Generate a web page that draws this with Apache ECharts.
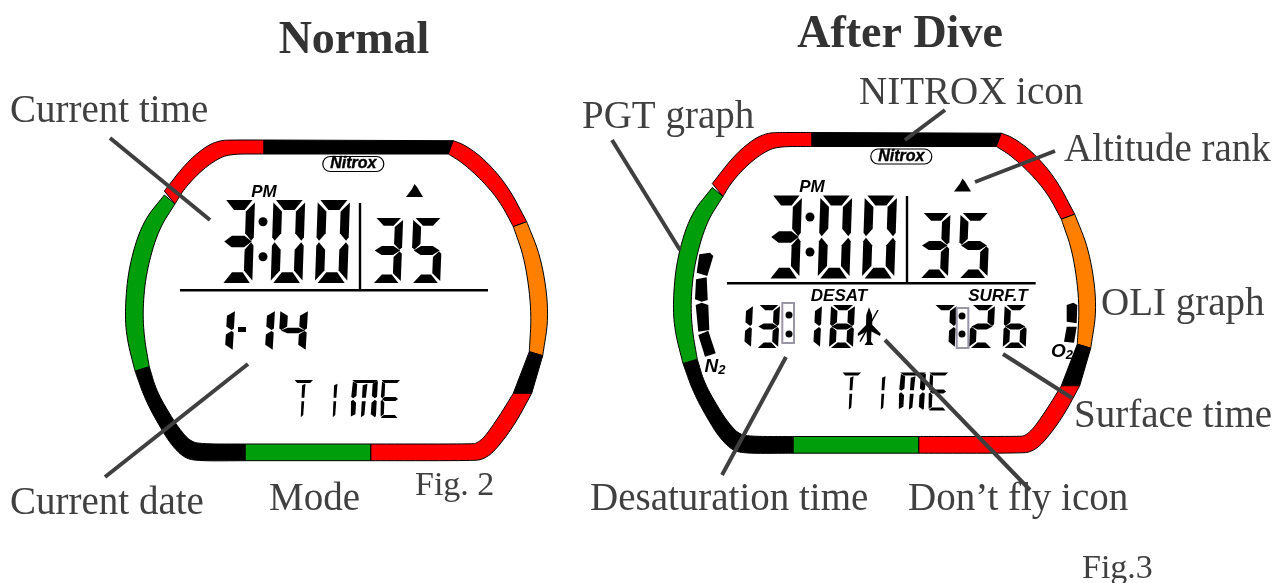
<!DOCTYPE html>
<html><head><meta charset="utf-8">
<style>html,body{margin:0;padding:0;background:#fff}#c{width:1273px;height:583px}</style>
<script src="https://cdn.jsdelivr.net/npm/echarts@6/dist/echarts.min.js"></script></head>
<body><div id="c"></div>
<script>
// ---------- bezel arcs (axis units), shared by both panels ----------
const redTopLeftOuter=[[164.3,191],[186.7,162.3],[206.7,145.7],[220,140.5],[230,140],[264,140]];
const redTopLeftInner=[[175,204],[183.3,190],[200,171.7],[216.7,159.3],[230,154],[264,154]];
const blackTopOuter=[[264,140],[453.3,140.7]];
const blackTopInner=[[264,154],[448.3,154]];
const redTopRightOuter=[[453.3,140.7],[465,145],[484.3,159],[507.7,185.7],[526.7,221.7]];
const redTopRightInner=[[448.3,154],[463.3,163.3],[483.3,181.7],[500,201.7],[513.3,226.7]];
const orangeOuter=[[526.7,221.7],[541.7,259],[549.3,313.3],[542.7,355.7]];
const orangeInner=[[513.3,226.7],[525,260],[531.7,310],[529.3,351.7]];
const blackRightOuter=[[542.7,355.7],[531.7,393.3]];
const blackRightInner=[[529.3,351.7],[513.3,393.3]];
const redBottomOuter=[[531.7,393.3],[515,424.3],[495,451],[483.3,459.3],[473.3,460.7],[370.7,460.7]];
const redBottomInner=[[513.3,393.3],[500,415],[485,436.7],[476.7,443.3],[471.7,444],[370.7,444]];
const greenBottomOuter=[[370.7,460.7],[245,460.7]];
const greenBottomInner=[[370.7,444],[245,444]];
const blackBottomOuter=[[245,460.7],[197.3,461],[184,457.7],[172.3,446],[162.3,431],[145.7,401],[135,371]];
const blackBottomInner=[[245,444],[200,444],[190,440.7],[181.7,431.7],[173.3,420],[156.7,391.7],[149.3,366.7]];
const greenLeftOuter=[[135,371],[126.3,336.7],[125,306.7],[129,265.7],[142.3,222.3],[164.3,195]];
const greenLeftInner=[[149.3,366.7],[144,336.7],[142.7,306.7],[146.7,270],[158.3,230],[175,204]];
const bezelColors=['#ff0000','#000000','#ff0000','#ff8000','#000000','#ff0000','#009e0b','#000000','#009e0b'];
const bezelArcs=[[redTopLeftOuter,redTopLeftInner],[blackTopOuter,blackTopInner],[redTopRightOuter,redTopRightInner],
 [orangeOuter,orangeInner],[blackRightOuter,blackRightInner],[redBottomOuter,redBottomInner],
 [greenBottomOuter,greenBottomInner],[blackBottomOuter,blackBottomInner],[greenLeftOuter,greenLeftInner]];
const panelOffsets=[[0,0],[548,-7.5]];

// ---------- LCD readouts: glyph, left, top, width, height ----------
const normalDigits=[['3',221,200,34,83],['0',270.7,200,34.5,83],['0',315,200,35,83],
 ['3',371.7,218,31.5,65],['5',410.7,218,32,65],
 ['1',205,310,30,41],['-',238,327,8,5],['1',245,310,30,41],['4',278,310,30,41],
 ['T',293,380,20,38],['I',325,380,20,38],['M',350,380,28,38],['E',380,380,20,38]];
const afterDiveDigits=[['3',768,195.5,34,83],['0',817.7,195.5,34.5,83],['0',862,195.5,35,83],
 ['3',919,213,31.5,65],['5',958,213,32,65],
 ['1',727,305,26,43],['3',756,305,24,43],['1',796,305,26,43],['8',829,305,26,43],
 ['7',931.7,305,25,43],['2',969,305,26,43],['6',1002.7,305,25,43],
 ['T',841,372.5,20,38],['I',873,372.5,20,38],['M',898,372.5,28,38],['E',928,372.5,20,38]];
const colonDots=[[263,221.7,4.5],[263,256.7,4.5],[810,217,4.5],[810,252,4.5],[789,315,3.5],[789,334,3.5],[962,316,3.5],[962,334,3.5]];
const colonBoxes=[[782.3,303,11.7,40],[956.7,308,11.6,40]];
const n2Bars=[[[699.3,254.3],[710,252.7],[713.3,256],[707.3,276],[696.7,272.7]],
 [[696,279.3],[706.7,277.3],[707.7,300],[701.7,301.7],[695,299.3]],
 [[695.7,305],[701.7,302.7],[708.3,305],[709.3,330],[698.3,331.7]],
 [[698.3,335],[708.3,330.7],[715.7,353.3],[705,356.7]]];
const o2Bars=[[[1066.7,305],[1073.3,302.7],[1077.3,305],[1076.7,323.3],[1066.7,321.7]],
 [[1066.7,326.7],[1076.7,326.7],[1074,342.7],[1064,341.7]]];
const planeBody=[[869,307.3],[872,315],[872.3,325],[880.7,333.5],[880,336],[871.5,331.5],[871,341.5],[873.5,345],[864.5,345],[867,341.5],[866.5,331.5],[858,336],[857.7,333.5],[866,325],[866.3,315]];
const planeSlash=[[860,341.7],[878,310]];
const altitudeMarks=[[[406,197],[412,189],[414.5,184],[417,187],[423,197]],[[954,191.5],[960,183.5],[962.5,178.5],[965,181.5],[971,191.5]]];
const rules=[[[180,290.3],[488,290.3]],[[360,203],[360,290.3]],[[727,283.3],[1035.7,283.3]],[[907,196],[907,283.3]]];
const leaders=[[[110,138],[210,220]],[[105,477],[248,364]],[[612,140],[680,250]],[[905,140],[945,110]],
 [[975,182],[1055,151]],[[1003,354],[1072,398]],[[885,340],[1030,490]],[[786,357],[722,475]]];

// ---------- text ----------
const titles=[['Normal',354,41],['After Dive',900,35]];
const captions=[['Current time',10,112],['Current date',10,504],['Mode',269,500],['PGT graph',582,118],['NITROX icon',859,94],
 ['Altitude rank',1064,151],['OLI graph',1101,305],['Surface time',1074,417],['Desaturation time',590,500],['Don\u2019t fly icon',908,500]];
const figures=[['Fig. 2',415,486],['Fig.3',1082,569]];
const lcdLabels=[['PM',264,192],['PM',812,187],['DESAT',839,296],['SURF.T',998,296]];
const subLabels=[['N','2',715,367],['O','2',1062,352]];
const logos=[[353.3,164],[901.3,156.5]];

// seven-segment outlines in a unit cell
const SEG={
 a:[[.08,0],[.92,0],[.68,.12],[.34,.12]],
 f:[[0,.03],[.28,.14],[.28,.40],[.08,.49],[0,.45]],
 b:[[1,.03],[1,.45],[.92,.49],[.72,.40],[.72,.14]],
 g:[[.06,.5],[.30,.43],[.70,.43],[.94,.5],[.70,.57],[.30,.57]],
 e:[[0,.55],[.08,.51],[.28,.60],[.28,.85],[0,.97]],
 c:[[1,.55],[.92,.51],[.72,.60],[.72,.85],[1,.97]],
 d:[[.08,1],[.34,.87],[.68,.87],[.92,1]],
 A:[[0,0],[1,0],[.85,.08],[.15,.08]],
 h:[[.42,.14],[.6,.10],[.57,.47],[.42,.47]],
 i:[[.42,.56],[.57,.56],[.55,.92],[.42,.98]],
 F:[[.03,.04],[.2,.1],[.2,.42],[.08,.48],[0,.44]],
 E:[[0,.56],[.08,.52],[.2,.6],[.2,.9],[.03,.96]],
 B:[[.97,.02],[1,.05],[1,.44],[.92,.48],[.8,.42],[.8,.1]],
 C:[[1,.56],[.92,.52],[.8,.6],[.8,.9],[.97,.98],[1,.95]],
 G:[[.06,.5],[.2,.45],[.8,.45],[.94,.5],[.8,.55],[.2,.55]],
 D:[[.05,.98],[.2,.92],[.8,.92],[.95,1],[.1,1]]
};
const GLYPH={'0':'abcdef','1':'bc','2':'abged','3':'abgcd','4':'fgbc','5':'afgcd','6':'afgedc','7':'abc','8':'abcdefg',
 'T':'Ahi','I':'hi','M':'AFEBChi','E':'AFGED','-':''};
const SLANT=.08;

// corner-cutting refinement keeps the arcs free of overshoot
function curve(p){
 let q=p.slice();
 if(q.length<3)return q;
 for(let n=0;n<3;n++){
  const o=[q[0]];
  for(let i=0;i<q.length-1;i++){const a=q[i],b=q[i+1];
   o.push([.75*a[0]+.25*b[0],.75*a[1]+.25*b[1]],[.25*a[0]+.75*b[0],.25*a[1]+.75*b[1]]);}
  o.push(q[q.length-1]);q=o;
 }
 return q;
}
const shapes=[];
const poly=(pts,fill,stroke,lw)=>shapes.push({k:'poly',pts,fill,stroke,lw});
const line=(pts,stroke,lw)=>shapes.push({k:'line',pts,stroke,lw});
const circle=(x,y,r)=>shapes.push({k:'circle',x,y,r});
const text=(t,x,y,font,fill,align,extra)=>shapes.push({k:'text',t,x,y,font,fill,align,extra});

panelOffsets.forEach(([dx,dy])=>{
 bezelArcs.forEach((arc,i)=>{
  const pts=curve(arc[0]).concat(curve(arc[1]).reverse()).map(q=>[q[0]+dx,q[1]+dy]);
  poly(pts,bezelColors[i],'#000',1);
 });
});
[normalDigits,afterDiveDigits].forEach(list=>list.forEach(([g,x,y,w,h])=>{
 if(g==='-'){poly([[x,y],[x+w,y],[x+w,y+h],[x,y+h]],'#000');return;}
 for(const s of GLYPH[g]){
  poly(SEG[s].map(([u,v])=>[x+w*(u*(1-SLANT)+SLANT*(1-v)),y+h*v]),'#000');
 }
}));
colonBoxes.forEach(([x,y,w,h])=>poly([[x,y],[x+w,y],[x+w,y+h],[x,y+h]],'none','#9b95a8',2));
colonDots.forEach(([x,y,r])=>circle(x,y,r));
n2Bars.concat(o2Bars).forEach(b=>poly(b,'#000'));
poly(planeBody,'#000');line(planeSlash,'#000',1.5);
altitudeMarks.forEach(m=>poly(m,'#000'));
rules.forEach(r=>line(r,'#000',2.4));
logos.forEach(([x,y])=>{shapes.push({k:'pill',x,y,w:61,h:15});text('Nitrox',x,y,'italic bold 16px "Liberation Sans"','#000','center',{stroke:'#000',lineWidth:.4});});
lcdLabels.forEach(([t,x,y])=>text(t,x,y,'italic bold 17px "Liberation Sans"','#000','center'));
subLabels.forEach(([a,b,x,y])=>shapes.push({k:'rich',a,b,x,y}));
leaders.forEach(l=>line(l,'#3f3f3f',4));
titles.forEach(([t,x,y])=>text(t,x,y,'bold 46px "Liberation Serif"','#333','center'));
captions.forEach(([t,x,y])=>text(t,x,y,'39px "Liberation Serif"','#404040','left'));
figures.forEach(([t,x,y])=>text(t,x,y,'34px "Liberation Serif"','#404040','left'));

function renderItem(params,api){
 const s=shapes[params.dataIndex],c=p=>api.coord(p);
 if(s.k==='poly')return{type:'polygon',shape:{points:s.pts.map(c)},style:{fill:s.fill,stroke:s.stroke||null,lineWidth:s.lw||0}};
 if(s.k==='line')return{type:'polyline',shape:{points:s.pts.map(c)},style:{fill:null,stroke:s.stroke,lineWidth:s.lw}};
 if(s.k==='circle'){const q=c([s.x,s.y]);return{type:'circle',shape:{cx:q[0],cy:q[1],r:s.r},style:{fill:'#000'}};}
 if(s.k==='pill'){const q=c([s.x-s.w/2,s.y-s.h/2]);return{type:'rect',shape:{x:q[0],y:q[1],width:s.w,height:s.h,r:7.5},style:{fill:'#fff',stroke:'#000',lineWidth:1.2}};}
 if(s.k==='rich'){const q=c([s.x,s.y]);return{type:'text',x:q[0],y:q[1],style:{text:'{a|'+s.a+'}{b|'+s.b+'}',align:'center',verticalAlign:'middle',
   rich:{a:{font:'italic bold 19px "Liberation Sans"',fill:'#000'},b:{font:'italic bold 13px "Liberation Sans"',fill:'#000',verticalAlign:'bottom'}}}};}
 const q=c([s.x,s.y]);
 return{type:'text',x:q[0],y:q[1],style:Object.assign({text:s.t,font:s.font,fill:s.fill,align:s.align,verticalAlign:'middle'},s.extra||{})};
}
const chart=echarts.init(document.getElementById('c'),null,{renderer:'canvas'});
chart.setOption({
 animation:false,backgroundColor:'#fff',
 grid:{left:0,right:0,top:0,bottom:0},
 xAxis:{type:'value',min:0,max:1273,show:false},
 yAxis:{type:'value',min:0,max:583,inverse:true,show:false},
 tooltip:{show:false},
 series:[{type:'custom',clip:false,silent:true,renderItem,data:shapes.map(()=>[1,1])}]
});
</script></body></html>
